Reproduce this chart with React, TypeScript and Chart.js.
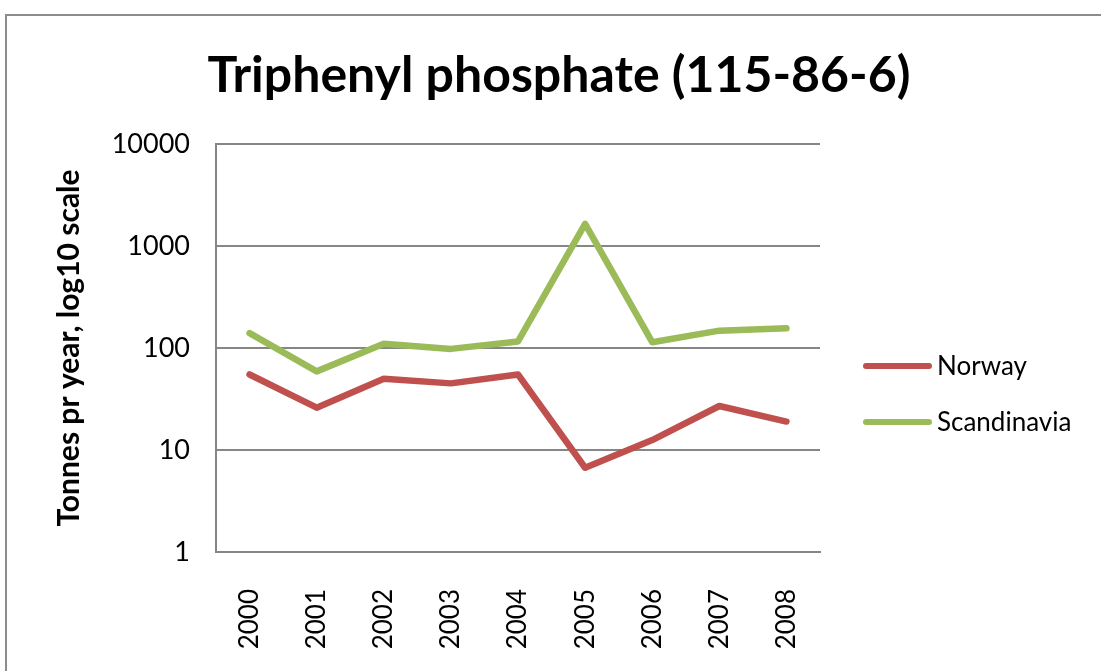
import React, { useEffect, useRef } from "react";
import { Chart, registerables } from "chart.js";

Chart.register(...registerables);

const titleText = "Triphenyl phosphate (115-86-6)";
const years = ["2000", "2001", "2002", "2003", "2004", "2005", "2006", "2007", "2008"];
const norway = [55, 26, 50, 45, 55, 6.7, 12.5, 27, 19];
const scandinavia = [140, 59, 110, 98, 116, 1650, 114, 148, 156];
const yTicks = [1, 10, 100, 1000, 10000];

const FONT = "Lato, 'DejaVu Sans', sans-serif";
const GRID = "#868686";

const titlePlugin = {
  id: "centeredTitle",
  afterDraw(chart: any) {
    const ctx = chart.ctx;
    ctx.save();
    ctx.fillStyle = "#000";
    ctx.font = `bold 50px ${FONT}`;
    ctx.textAlign = "center";
    ctx.textBaseline = "alphabetic";
    ctx.fillText(titleText, 559, 92);
    ctx.restore();
  },
};

const legendPlugin = {
  id: "sideLegend",
  afterDraw(chart: any) {
    const ctx = chart.ctx;
    const area = chart.chartArea;
    const x0 = area.right + 46;
    const rows = [366, 422];
    ctx.save();
    chart.data.datasets.forEach((ds: any, i: number) => {
      const y = rows[i];
      ctx.strokeStyle = ds.borderColor;
      ctx.lineWidth = 6;
      ctx.lineCap = "round";
      ctx.beginPath();
      ctx.moveTo(x0, y);
      ctx.lineTo(x0 + 63, y);
      ctx.stroke();
      ctx.fillStyle = "#000";
      ctx.font = `26px ${FONT}`;
      ctx.textAlign = "left";
      ctx.textBaseline = "middle";
      ctx.fillText(ds.label, x0 + 71, y + 1);
    });
    ctx.restore();
  },
};

export default function App() {
  const ref = useRef<HTMLCanvasElement | null>(null);

  useEffect(() => {
    if (!ref.current) return;
    const chart = new Chart(ref.current, {
      type: "line",
      data: {
        labels: years,
        datasets: [
          {
            label: "Norway",
            data: norway,
            borderColor: "#C0504D",
            backgroundColor: "#C0504D",
            borderWidth: 6.5,
            pointRadius: 0,
            borderJoinStyle: "round",
            borderCapStyle: "round",
            tension: 0,
          },
          {
            label: "Scandinavia",
            data: scandinavia,
            borderColor: "#9BBB59",
            backgroundColor: "#9BBB59",
            borderWidth: 6.5,
            pointRadius: 0,
            borderJoinStyle: "round",
            borderCapStyle: "round",
            tension: 0,
          },
        ],
      },
      options: {
        animation: false,
        responsive: false,
        maintainAspectRatio: false,
        layout: { padding: { left: 40, right: 281, top: 144, bottom: 0 } },
        plugins: {
          legend: { display: false },
          tooltip: { enabled: false },
          title: { display: false },
        },
        scales: {
          x: {
            type: "category",
            offset: true,
            grid: { display: false, drawTicks: false },
            border: { display: true, color: GRID, width: 2 },
            ticks: {
              color: "#000",
              font: { family: FONT, size: 26 },
              minRotation: 90,
              maxRotation: 90,
              padding: 37,
            },
            afterFit: (s: any) => {
              s.height = 119;
            },
          },
          y: {
            type: "logarithmic",
            min: 1,
            max: 10000,
            grid: { color: GRID, lineWidth: 2, drawTicks: false },
            border: { display: true, color: GRID, width: 2 },
            ticks: {
              color: "#000",
              font: { family: FONT, size: 27 },
              padding: 26,
              callback: (v: any) => String(v),
            },
            afterBuildTicks: (s: any) => {
              s.ticks = yTicks.map((v) => ({ value: v }));
            },
            title: {
              display: true,
              text: "Tonnes pr year, log10 scale",
              color: "#000",
              font: { family: FONT, size: 30, weight: "bold" },
              padding: { top: 11, bottom: 0 },
            },
            afterFit: (s: any) => {
              s.width = 176;
            },
          },
        },
      },
      plugins: [titlePlugin, legendPlugin],
    });
    return () => chart.destroy();
  }, []);

  return (
    <div style={{ position: "fixed", left: 0, top: 0, width: 1101, height: 671, overflow: "hidden", background: "#fff" }}>
      <div
        style={{
          position: "absolute",
          left: 5,
          top: 14,
          width: 1200,
          height: 800,
          border: "2px solid #8c8c8c",
          boxSizing: "border-box",
        }}
      />
      <canvas ref={ref} width={1101} height={671} style={{ position: "absolute", left: 0, top: 0, width: 1101, height: 671 }} />
    </div>
  );
}
